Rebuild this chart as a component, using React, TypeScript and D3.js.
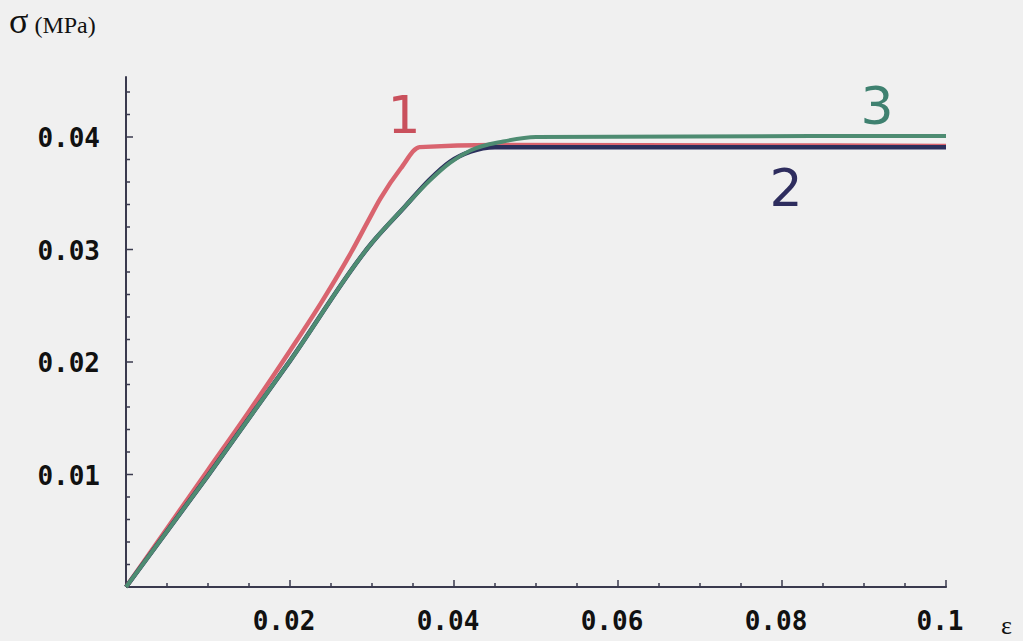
import React from "react";
import * as d3 from "d3";

// strain (ε) / stress (σ, MPa) readings
const curve1Eps = [0, 0.005, 0.01, 0.015, 0.02, 0.024, 0.0275, 0.0295, 0.031, 0.0335, 0.0358, 0.045, 0.1];
const curve1Sig = [0, 0.0052, 0.0104, 0.0156, 0.021, 0.0255, 0.0298, 0.0325, 0.0345, 0.0372, 0.0391, 0.0393, 0.0392];

const curve2Eps = [0, 0.01, 0.02, 0.03, 0.034, 0.037, 0.0395, 0.042, 0.045, 0.1];
const curve2Sig = [0, 0.0099, 0.0201, 0.0306, 0.0338, 0.0362, 0.0378, 0.0387, 0.0391, 0.0391];

const curve3Eps = [0, 0.01, 0.02, 0.03, 0.034, 0.037, 0.0395, 0.042, 0.046, 0.05, 0.1];
const curve3Sig = [0, 0.0099, 0.0201, 0.0306, 0.0338, 0.0361, 0.0377, 0.0388, 0.0396, 0.04, 0.0401];

const xTickLabels = ["0.02", "0.04", "0.06", "0.08", "0.1"];
const xTickValues = [0.02, 0.04, 0.06, 0.08, 0.1];
const yTickLabels = ["0.01", "0.02", "0.03", "0.04"];
const yTickValues = [0.01, 0.02, 0.03, 0.04];

const curveNames = ["1", "2", "3"];
const curveLabelPos = [
  [0.0339, 0.0404],
  [0.0805, 0.0339],
  [0.0916, 0.0412],
];

export default function App() {
  const W = 1023;
  const H = 641;
  const x = d3.scaleLinear().domain([0, 0.1]).range([126, 946]);
  const y = d3.scaleLinear().domain([0, 0.04]).range([587, 137]);
  const yTop = 0.0454;
  const xEnd = 0.1001;

  const mk = (e: number[], s: number[]) =>
    d3
      .line<number>()
      .x((_, i) => x(e[i]))
      .y((_, i) => y(s[i]))
      .curve(d3.curveMonotoneX)(e) as string;

  const xMinor = d3.range(0.005, 0.1001, 0.005);
  const yMinor = d3.range(0.002, 0.0451, 0.002);

  const axisColor = "#3a3a4e";
  const c1 = "#d9646f";
  const c2 = "#2b2f5c";
  const c3 = "#4e8c72";
  const labelColors = ["#c9505c", "#2e2d5e", "#3f8170"];

  return (
    <svg
      width={W}
      height={H}
      style={{ position: "absolute", left: 0, top: 0, display: "block" }}
    >
      <rect x={0} y={0} width={W} height={H} fill="#f0f0f0" />

      {/* axes */}
      <line x1={x(0)} y1={y(0)} x2={x(xEnd)} y2={y(0)} stroke={axisColor} strokeWidth={2} />
      <line x1={x(0)} y1={y(0)} x2={x(0)} y2={y(yTop)} stroke={axisColor} strokeWidth={2} />

      {xMinor.map((v, i) => {
        const major = Math.abs(v / 0.02 - Math.round(v / 0.02)) < 1e-6;
        return (
          <line
            key={"xt" + i}
            x1={x(v)}
            x2={x(v)}
            y1={y(0)}
            y2={y(0) - (major ? 7 : 4)}
            stroke={axisColor}
            strokeWidth={1.5}
          />
        );
      })}
      {yMinor.map((v, i) => {
        const major = Math.abs(v / 0.01 - Math.round(v / 0.01)) < 1e-6;
        return (
          <line
            key={"yt" + i}
            x1={x(0)}
            x2={x(0) + (major ? 7 : 4)}
            y1={y(v)}
            y2={y(v)}
            stroke={axisColor}
            strokeWidth={1.5}
          />
        );
      })}

      {xTickValues.map((v, i) => (
        <text
          key={"xl" + i}
          x={x(v) - 6}
          y={630}
          textAnchor="middle"
          fontFamily="DejaVu Sans Mono"
          fontWeight="bold"
          fontSize={26}
          fill="#111"
        >
          {xTickLabels[i]}
        </text>
      ))}
      {yTickValues.map((v, i) => (
        <text
          key={"yl" + i}
          x={100}
          y={y(v) + 10}
          textAnchor="end"
          fontFamily="DejaVu Sans Mono"
          fontWeight="bold"
          fontSize={26}
          fill="#111"
        >
          {yTickLabels[i]}
        </text>
      ))}

      {/* curves */}
      <path d={mk(curve1Eps, curve1Sig)} fill="none" stroke={c1} strokeWidth={4.5} strokeLinejoin="round" />
      <path d={mk(curve2Eps, curve2Sig)} fill="none" stroke={c2} strokeWidth={4.5} strokeLinejoin="round" />
      <path d={mk(curve3Eps, curve3Sig)} fill="none" stroke={c3} strokeWidth={4} strokeLinejoin="round" />

      {curveNames.map((n, i) => (
        <text
          key={"cn" + i}
          x={x(curveLabelPos[i][0])}
          y={y(curveLabelPos[i][1])}
          textAnchor="middle"
          fontFamily="DejaVu Sans"
          fontSize={52}
          fill={labelColors[i]}
        >
          {n}
        </text>
      ))}

      {/* axis titles */}
      <text x={9} y={33} fontFamily="Liberation Serif" fill="#111">
        <tspan fontSize={36}>σ</tspan>
        <tspan fontSize={24} dx={6}>(MPa)</tspan>
      </text>
      <text x={1001} y={634} fontFamily="Liberation Serif" fontSize={26} fill="#111">
        ε
      </text>
    </svg>
  );
}
